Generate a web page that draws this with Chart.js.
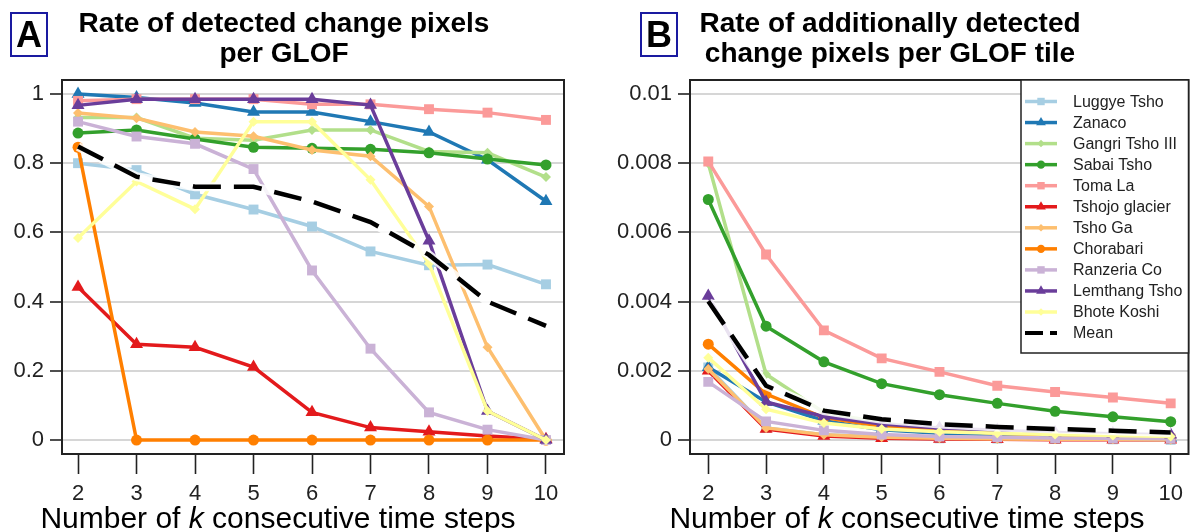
<!DOCTYPE html>
<html>
<head>
<meta charset="utf-8">
<script src="https://cdn.jsdelivr.net/npm/chart.js@4/dist/chart.umd.min.js"></script>
<style>
  body { margin: 0; background: #fff; }
  #wrap { position: relative; width: 1196px; height: 532px; overflow: hidden; font-family: "Liberation Sans", Arial, sans-serif; }
  canvas { position: absolute; top: 0; }
  .title { position: absolute; width: 600px; text-align: center; font-weight: bold; font-size: 28px; line-height: 30px; color: #000; }
  .xtitle { position: absolute; width: 600px; text-align: center; font-size: 30px; line-height: 30px; color: #000; }
  .tag { position: absolute; width: 34px; height: 41px; border: 2px solid #1a1aa0; font-weight: bold; font-size: 36px; line-height: 42px; text-align: center; color: #000; }
</style>
</head>
<body>
<div id="wrap">
  <canvas id="chartA" width="600" height="532" style="left:0"></canvas>
  <canvas id="chartB" width="596" height="532" style="left:600px"></canvas>
  <div class="tag" style="left:10px;top:12px">A</div>
  <div class="tag" style="left:640px;top:12px">B</div>
  <div class="title" style="left:-16px;top:8px">Rate of detected change pixels<br>per GLOF</div>
  <div class="title" style="left:590px;top:8px">Rate of additionally detected<br>change pixels per GLOF tile</div>
  <div class="xtitle" style="left:-22px;top:503px">Number of <i>k</i> consecutive time steps</div>
  <div class="xtitle" style="left:607px;top:503px">Number of <i>k</i> consecutive time steps</div>
</div>
<script>
// x values: number of k consecutive time steps
const kSteps = [2, 3, 4, 5, 6, 7, 8, 9, 10];

const seriesNames = ["Luggye Tsho", "Zanaco", "Gangri Tsho III", "Sabai Tsho", "Toma La",
    "Tshojo glacier", "Tsho Ga", "Chorabari", "Ranzeria Co", "Lemthang Tsho", "Bhote Koshi"];

// panel A - rate of detected change pixels per GLOF
const aLuggye    = [0.80, 0.78, 0.71, 0.666, 0.617, 0.545, 0.505, 0.507, 0.45];
const aZanaco    = [1.0, 0.99, 0.974, 0.948, 0.948, 0.92, 0.89, 0.81, 0.69];
const aGangri    = [0.932, 0.932, 0.872, 0.866, 0.896, 0.896, 0.834, 0.83, 0.76];
const aSabai     = [0.887, 0.896, 0.87, 0.846, 0.843, 0.84, 0.83, 0.812, 0.795];
const aTomaLa    = [0.98, 0.985, 0.985, 0.985, 0.97, 0.97, 0.956, 0.946, 0.925];
const aTshojo    = [0.442, 0.277, 0.268, 0.211, 0.08, 0.036, 0.024, 0.012, 0.002];
const aTshoGa    = [0.945, 0.93, 0.89, 0.878, 0.838, 0.82, 0.675, 0.268, 0];
const aChorabari = [0.846, 0, 0, 0, 0, 0, 0, 0, 0];
const aRanzeria  = [0.92, 0.877, 0.856, 0.783, 0.49, 0.264, 0.08, 0.03, 0];
const aLemthang  = [0.967, 0.985, 0.985, 0.985, 0.985, 0.968, 0.576, 0.084, 0];
const aBhote     = [0.584, 0.747, 0.667, 0.92, 0.92, 0.752, 0.51, 0.084, 0];
const aMean      = [0.848, 0.761, 0.732, 0.732, 0.689, 0.63, 0.535, 0.40, 0.33];

// panel B - rate of additionally detected change pixels per GLOF tile
const bLuggye    = [0.0021, 0.00035, 0.00015, 0.0001, 0.00005, 0.00004, 0.00003, 0.00002, 0.00001];
const bZanaco    = [0.0021, 0.0011, 0.00056, 0.0003, 0.0002, 0.00015, 0.0001, 0.00008, 0.00006];
const bGangri    = [0.0080, 0.0019, 0.0008, 0.0005, 0.0003, 0.0002, 0.00015, 0.0001, 0.0001];
const bSabai     = [0.00695, 0.00329, 0.00226, 0.00163, 0.00131, 0.00106, 0.00083, 0.00067, 0.00053];
const bTomaLa    = [0.00805, 0.00536, 0.00317, 0.00236, 0.00197, 0.00157, 0.00139, 0.00123, 0.00106];
const bTshojo    = [0.002, 0.00032, 0.00012, 0.00005, 0.00003, 0.00002, 0.00001, 0.00001, 0.00001];
const bTshoGa    = [0.00205, 0.00035, 0.00015, 0.00008, 0.00005, 0.00003, 0.00002, 0.00002, 0.00001];
const bChorabari = [0.00277, 0.00133, 0.00065, 0.0004, 0.0003, 0.0002, 0.00015, 0.0001, 0.00008];
const bRanzeria  = [0.00168, 0.00054, 0.00028, 0.00016, 0.0001, 0.00008, 0.00006, 0.00005, 0.00004];
const bLemthang  = [0.00416, 0.0011, 0.00068, 0.00046, 0.00035, 0.00028, 0.00022, 0.00018, 0.00015];
const bBhote     = [0.00238, 0.00089, 0.00049, 0.00032, 0.00024, 0.0002, 0.00016, 0.00013, 0.0001];
const bMean      = [0.00401, 0.00157, 0.00085, 0.0006, 0.00046, 0.00038, 0.00032, 0.00027, 0.00022];

// tick values and labels
const aTicks = [0, 0.2, 0.4, 0.6, 0.8, 1];
const aTickLabels = ["0", "0.2", "0.4", "0.6", "0.8", "1"];
const bTicks = [0, 0.002, 0.004, 0.006, 0.008, 0.01];
const bTickLabels = ["0", "0.002", "0.004", "0.006", "0.008", "0.01"];

// styles
const seriesColors = ["#a6cee3", "#1f78b4", "#b2df8a", "#33a02c", "#fb9a99",
    "#e31a1c", "#fdbf6f", "#ff7f00", "#cab2d6", "#6a3d9a", "#ffff99"];
const seriesMarkers = ["rect", "triangle", "rectRot", "circle", "rect",
    "triangle", "rectRot", "circle", "rect", "triangle", "rectRot"];
const markerRadius = { rect: 7, triangle: 7.5, rectRot: 5, circle: 5.5 };
const FONT = "'Liberation Sans', Arial, sans-serif";

//draws a marker shape for the legend
const drawMarker = (ctx, style, x, y, r) => {
    ctx.beginPath();
    if (style === "circle") {
        ctx.arc(x, y, r, 0, Math.PI * 2);
    } else if (style === "rect") {
        const s = r * Math.SQRT1_2;
        ctx.rect(x - s, y - s, 2 * s, 2 * s);
    } else if (style === "rectRot") {
        ctx.moveTo(x, y - r); ctx.lineTo(x + r, y); ctx.lineTo(x, y + r); ctx.lineTo(x - r, y);
        ctx.closePath();
    } else {
        ctx.moveTo(x, y - r);
        ctx.lineTo(x + Math.sin(2 * Math.PI / 3) * r, y + r / 2);
        ctx.lineTo(x - Math.sin(2 * Math.PI / 3) * r, y + r / 2);
        ctx.closePath();
    }
    ctx.fill();
};

//frame around the plot region
const framePlugin = {
    id: "frame",
    afterDatasetsDraw: (chart) => {
        const a = chart.chartArea;
        const ctx = chart.ctx;
        ctx.save();
        ctx.strokeStyle = "#222";
        ctx.lineWidth = 2;
        ctx.strokeRect(a.left, a.top, a.right - a.left, a.bottom - a.top);
        ctx.restore();
    },
};

//legend box in the top right of panel B
const legendPlugin = {
    id: "boxLegend",
    afterDraw: (chart) => {
        const ctx = chart.ctx;
        const a = chart.chartArea;
        const x0 = 421, y0 = a.top, x1 = a.right, y1 = 353;
        ctx.save();
        ctx.fillStyle = "#fff";
        ctx.fillRect(x0, y0, x1 - x0, y1 - y0);
        ctx.strokeStyle = "#222";
        ctx.lineWidth = 1.5;
        ctx.strokeRect(x0, y0, x1 - x0, y1 - y0);
        ctx.font = "16px " + FONT;
        ctx.textBaseline = "middle";
        const labels = seriesNames.concat(["Mean"]);
        labels.forEach((name, i) => {
            const y = 101.5 + i * 21.05;
            ctx.lineWidth = 3.5;
            if (i < seriesNames.length) {
                ctx.strokeStyle = seriesColors[i];
                ctx.fillStyle = seriesColors[i];
                ctx.setLineDash([]);
                ctx.beginPath(); ctx.moveTo(425, y); ctx.lineTo(457, y); ctx.stroke();
                drawMarker(ctx, seriesMarkers[i], 441, y, markerRadius[seriesMarkers[i]] * 0.75);
            } else {
                ctx.strokeStyle = "#000";
                ctx.lineWidth = 4;
                ctx.setLineDash([18, 7]);
                ctx.beginPath(); ctx.moveTo(425, y); ctx.lineTo(457, y); ctx.stroke();
                ctx.setLineDash([]);
            }
            ctx.fillStyle = "#222";
            ctx.fillText(name, 473, y + 1);
        });
        ctx.restore();
    },
};

//builds the datasets of one panel
const makeDatasets = (seriesValues, meanValues) => {
    const sets = seriesValues.map((vals, i) => ({
        label: seriesNames[i],
        data: kSteps.map((k, j) => ({ x: k, y: vals[j] })),
        borderColor: seriesColors[i],
        backgroundColor: seriesColors[i],
        borderWidth: 3.5,
        pointStyle: seriesMarkers[i],
        pointRadius: markerRadius[seriesMarkers[i]],
        pointBorderWidth: 0,
        order: 100 - i,
    }));
    //white halo under the mean line
    sets.push({
        label: "halo",
        data: kSteps.map((k, j) => ({ x: k, y: meanValues[j] })),
        borderColor: "rgba(255,255,255,0.85)",
        borderWidth: 9,
        pointRadius: 0,
        order: 2,
    });
    sets.push({
        label: "Mean",
        data: kSteps.map((k, j) => ({ x: k, y: meanValues[j] })),
        borderColor: "#000",
        borderWidth: 4.5,
        borderDash: [28, 13],
        pointRadius: 0,
        order: 1,
    });
    return sets;
};

//builds one panel config
const makeConfig = (datasets, opt) => ({
    type: "line",
    data: { datasets: datasets },
    options: {
        responsive: false,
        animation: false,
        devicePixelRatio: 1,
        layout: { padding: { top: 80, right: opt.padRight, bottom: 0, left: 0 } },
        plugins: { legend: { display: false }, tooltip: { enabled: false } },
        elements: { line: { tension: 0 } },
        scales: {
            x: {
                type: "linear",
                min: opt.xMin,
                max: 10.308,
                afterBuildTicks: (s) => { s.ticks = kSteps.map((v) => ({ value: v })); },
                afterFit: (s) => { s.height = 78; },
                border: { display: false },
                grid: { drawOnChartArea: false, drawTicks: true, tickLength: 20, tickColor: "#222", tickWidth: 1.6 },
                ticks: { color: "#222", font: { family: FONT, size: 22 }, padding: 7, maxRotation: 0, autoSkip: false },
            },
            y: {
                min: opt.yMin,
                max: opt.yMax,
                afterBuildTicks: (s) => { s.ticks = opt.ticks.map((v) => ({ value: v })); },
                afterFit: (s) => { s.width = opt.yWidth; },
                border: { display: false },
                grid: { color: "#d6d6d6", lineWidth: 2, drawTicks: true, tickLength: 12, tickColor: "#222", tickWidth: 1.6 },
                ticks: {
                    color: "#222",
                    font: { family: FONT, size: 22 },
                    padding: 6,
                    callback: (v, i) => opt.labels[i],
                },
            },
        },
    },
    plugins: opt.plugins,
});

const chartA = new Chart(document.getElementById("chartA"), makeConfig(
    makeDatasets([aLuggye, aZanaco, aGangri, aSabai, aTomaLa, aTshojo, aTshoGa, aChorabari, aRanzeria, aLemthang, aBhote], aMean),
    { padRight: 36, xMin: 1.726, yMin: -0.0403, yMax: 1.0403, yWidth: 62, ticks: aTicks, labels: aTickLabels, plugins: [framePlugin] }
));

const chartB = new Chart(document.getElementById("chartB"), makeConfig(
    makeDatasets([bLuggye, bZanaco, bGangri, bSabai, bTomaLa, bTshojo, bTshoGa, bChorabari, bRanzeria, bLemthang, bBhote], bMean),
    { padRight: 3, xMin: 1.684, yMin: -0.000403, yMax: 0.010403, yWidth: 90, ticks: bTicks, labels: bTickLabels, plugins: [framePlugin, legendPlugin] }
));
</script>
</body>
</html>
